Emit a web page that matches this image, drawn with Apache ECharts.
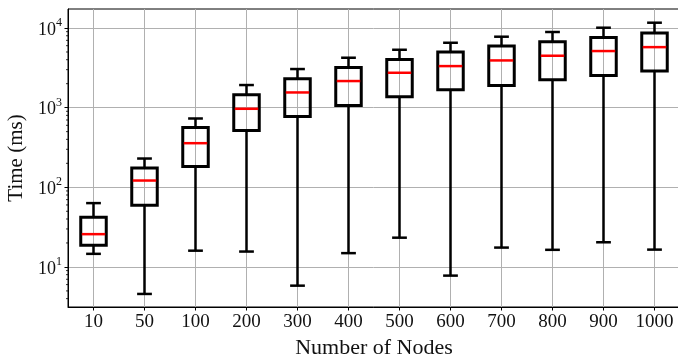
<!DOCTYPE html>
<html><head><meta charset="utf-8">
<script src="https://cdn.jsdelivr.net/npm/echarts@6/dist/echarts.min.js"></script>
<style>html,body{margin:0;padding:0;background:#fff}#c{width:678px;height:354px}</style>
</head><body><div id="c"></div>
<script>
const categories = ['10','50','100','200','300','400','500','600','700','800','900','1000'];
const whiskerLow  = [14.6, 4.58, 16.0, 15.6, 5.82, 14.9, 23.3, 7.78, 17.5, 16.4, 20.4, 16.5];
const q1          = [18.7, 59.6, 182, 516, 774, 1064, 1371, 1676, 1901, 2239, 2537, 2879];
const median      = [25.8, 121.6, 358, 968, 1552, 2158, 2742, 3325, 3917, 4487, 5138, 5754];
const q3          = [42, 175, 563, 1452, 2307, 3199, 4027, 4988, 5940, 6724, 7622, 8650];
const whiskerHigh = [63.3, 229.7, 731, 1923, 3054, 4236, 5333, 6530, 7780, 8913, 10090, 11660];
const yMin = 3.14, yMax = 17330;
const minorTickValues = [4,5,6,7,8,9,20,30,40,50,60,70,80,90,200,300,400,500,600,700,800,900,2000,3000,4000,5000,6000,7000,8000,9000];

const FONT = 'Liberation Serif';
const boxData = categories.map((c, i) => [i, whiskerLow[i], q1[i], median[i], q3[i], whiskerHigh[i]]);

const chart = echarts.init(document.getElementById('c'), null, {renderer: 'canvas'});
chart.setOption({
  animation: false,
  backgroundColor: '#fff',
  grid: {left: 68, right: -2, top: 9, bottom: 47, containLabel: false, outerBoundsMode: 'none',
         show: true, borderColor: '#000', borderWidth: 1, backgroundColor: 'transparent'},
  xAxis: {
    type: 'category', data: categories, boundaryGap: true,
    axisLine: {show: true, lineStyle: {color: '#000', width: 1}},
    axisTick: {show: true, alignWithLabel: true, length: 3.5, lineStyle: {color: '#000', width: 1}},
    axisLabel: {color: '#111', fontSize: 19, fontFamily: FONT, margin: 6},
    splitLine: {show: true, alignWithLabel: true, lineStyle: {color: '#b0b0b0', width: 1}},
    name: 'Number of Nodes', nameLocation: 'middle', nameGap: 28,
    nameTextStyle: {color: '#111', fontSize: 22, fontFamily: FONT}
  },
  yAxis: {
    type: 'log', logBase: 10, min: yMin, max: yMax,
    axisLine: {show: true, lineStyle: {color: '#000', width: 1}},
    axisTick: {show: true, length: 3.5, lineStyle: {color: '#000', width: 1}},
    axisLabel: {
      showMinLabel: false, showMaxLabel: false, margin: 6,
      color: '#111', fontSize: 18, fontFamily: FONT,
      formatter: v => '{b|10}{s|' + Math.round(Math.log10(v)) + '}',
      rich: {
        b: {fontSize: 18, fontFamily: FONT, color: '#111', lineHeight: 22, verticalAlign: 'bottom'},
        s: {fontSize: 12, fontFamily: FONT, color: '#111', lineHeight: 22, verticalAlign: 'top'}
      }
    },
    splitLine: {show: true, showMinLine: false, showMaxLine: false, lineStyle: {color: '#b0b0b0', width: 1}},
    name: 'Time (ms)', nameLocation: 'middle', nameGap: 37, nameRotate: 90,
    nameTextStyle: {color: '#111', fontSize: 21, fontFamily: FONT}
  },
  series: [
    {
      type: 'custom',
      data: minorTickValues.map(v => [0, v]),
      encode: {x: 0, y: 1},
      silent: true,
      renderItem(params, api) {
        const p = api.coord([0, api.value(1)]);
        const cs = params.coordSys;
        return {type: 'line', shape: {x1: cs.x - 2, y1: p[1], x2: cs.x, y2: p[1]}, style: {stroke: '#000', lineWidth: 0.8}};
      }
    },
    {
      type: 'custom',
      data: boxData,
      encode: {x: 0, y: [1, 2, 3, 4, 5]},
      renderItem(params, api) {
        const i = api.value(0);
        const pl = api.coord([i, api.value(1)]);
        const p1 = api.coord([i, api.value(2)]);
        const pm = api.coord([i, api.value(3)]);
        const p3 = api.coord([i, api.value(4)]);
        const ph = api.coord([i, api.value(5)]);
        const band = api.size([1, 0])[0];
        const bw = band * 0.5;
        const cw = bw * 0.5;
        const x = pl[0];
        const blk = '#000';
        return {
          type: 'group',
          children: [
            {type: 'line', shape: {x1: x, y1: pl[1], x2: x, y2: p1[1]}, style: {stroke: blk, lineWidth: 2.5}},
            {type: 'line', shape: {x1: x, y1: p3[1], x2: x, y2: ph[1]}, style: {stroke: blk, lineWidth: 2.5}},
            {type: 'line', shape: {x1: x - cw / 2 - 1, y1: pl[1], x2: x + cw / 2 + 1, y2: pl[1]}, style: {stroke: blk, lineWidth: 2.5}},
            {type: 'line', shape: {x1: x - cw / 2 - 1, y1: ph[1], x2: x + cw / 2 + 1, y2: ph[1]}, style: {stroke: blk, lineWidth: 2.5}},
            {type: 'rect', shape: {x: x - bw / 2, y: p3[1], width: bw, height: p1[1] - p3[1]}, style: {stroke: blk, fill: 'none', lineWidth: 3}},
            {type: 'line', shape: {x1: x - bw / 2 + 1, y1: pm[1], x2: x + bw / 2 - 1, y2: pm[1]}, style: {stroke: '#ff0000', lineWidth: 2.5}}
          ]
        };
      }
    }
  ]
});
</script></body></html>
